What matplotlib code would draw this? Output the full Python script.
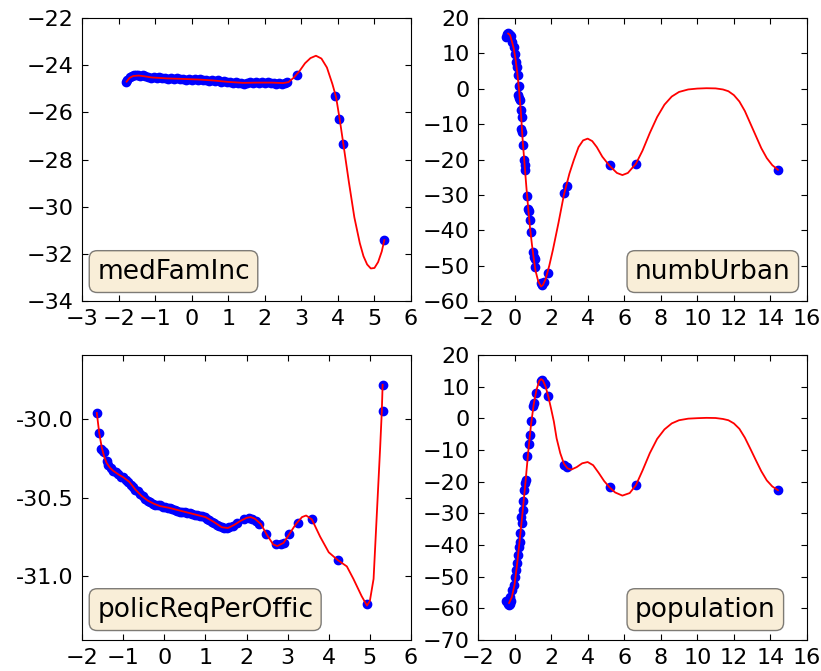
import matplotlib
matplotlib.use('Agg')
import matplotlib.pyplot as plt
from matplotlib.ticker import FormatStrFormatter, MultipleLocator

# ---- data ----
med_x = [-1.80, -1.76, -1.70, -1.64, -1.58, -1.52, -1.46, -1.40, -1.34, -1.28,
         -1.20, -1.12, -1.04, -0.96, -0.88, -0.80, -0.72, -0.64, -0.56, -0.48,
         -0.40, -0.32, -0.24, -0.16, -0.08, 0.00, 0.08, 0.16, 0.24, 0.32,
         0.40, 0.48, 0.56, 0.64, 0.72, 0.80, 0.88, 0.96, 1.04, 1.12,
         1.20, 1.28, 1.36, 1.44, 1.52, 1.60, 1.68, 1.76, 1.84, 1.92,
         2.00, 2.08, 2.16, 2.24, 2.32, 2.40, 2.48, 2.56, 2.62, 2.87,
         3.93, 4.03, 4.14, 5.27]
med_y = [-24.72, -24.64, -24.52, -24.44, -24.41, -24.43, -24.40, -24.44, -24.42, -24.47,
         -24.49, -24.53, -24.50, -24.55, -24.52, -24.56, -24.54, -24.57, -24.55, -24.59,
         -24.56, -24.60, -24.57, -24.61, -24.58, -24.62, -24.59, -24.63, -24.60, -24.65,
         -24.62, -24.66, -24.64, -24.68, -24.65, -24.70, -24.67, -24.73, -24.70, -24.75,
         -24.72, -24.77, -24.74, -24.78, -24.75, -24.72, -24.76, -24.71, -24.74, -24.72,
         -24.75, -24.73, -24.77, -24.74, -24.78, -24.75, -24.79, -24.76, -24.72, -24.42,
         -25.31, -26.28, -27.34, -31.42]
med_cx = [-1.78, -1.70, -1.60, -1.45, -1.30, -1.10, -0.70, -0.30, 0.20, 0.60,
          1.00, 1.40, 1.80, 2.20, 2.50, 2.65, 2.80, 2.95, 3.10, 3.25,
          3.40, 3.55, 3.70, 3.85, 3.95, 4.05, 4.15, 4.30, 4.45, 4.60,
          4.70, 4.80, 4.90, 5.00, 5.10, 5.20, 5.27]
med_cy = [-24.70, -24.54, -24.46, -24.44, -24.47, -24.52, -24.56, -24.58, -24.61, -24.65,
          -24.71, -24.75, -24.74, -24.74, -24.76, -24.72, -24.52, -24.25, -23.92, -23.70,
          -23.60, -23.72, -24.10, -24.80, -25.35, -26.30, -27.35, -28.95, -30.45, -31.55,
          -32.10, -32.45, -32.62, -32.60, -32.35, -31.90, -31.42]

urb_x = [-0.45, -0.40, -0.35, -0.30, -0.25, -0.20, -0.12, -0.05, 0.04, 0.10,
         0.13, 0.17, 0.22, 0.17, 0.24, 0.28, 0.35, 0.41, 0.37, 0.41,
         0.46, 0.50, 0.55, 0.59, 0.68, 0.72, 0.77, 0.83, 0.90, 1.01,
         1.05, 1.10, 1.14, 1.45, 1.50, 1.59, 1.81, 2.72, 2.87, 5.20,
         6.64, 14.41]
urb_y = [14.5, 15.5, 15.8, 15.6, 15.3, 14.8, 13.2, 11.8, 9.9, 7.5,
         6.1, 3.8, 0.7, -1.9, -2.6, -3.3, -6.1, -8.0, -11.3, -12.2,
         -16.0, -20.2, -21.6, -22.9, -30.3, -34.1, -34.5, -37.0, -40.6, -46.1,
         -47.5, -48.0, -50.3, -55.0, -55.5, -54.6, -52.0, -29.4, -27.5, -21.5,
         -21.2, -22.9]
urb_cx = [-0.35, -0.25, -0.15, -0.05, 0.05, 0.15, 0.25, 0.35, 0.45, 0.55,
          0.65, 0.75, 0.85, 0.95, 1.05, 1.15, 1.30, 1.45, 1.55, 1.70,
          1.90, 2.10, 2.40, 2.70, 3.00, 3.24, 3.50, 3.75, 4.00, 4.25,
          4.50, 4.80, 5.20, 5.60, 5.90, 6.20, 6.64, 7.00, 7.40, 7.80,
          8.20, 8.60, 9.00, 9.50, 10.0, 10.5, 11.0, 11.4, 11.7, 12.0,
          12.3, 12.6, 12.9, 13.2, 13.5, 13.8, 14.1, 14.41]
urb_cy = [15.6, 15.2, 13.5, 11.5, 8.5, 4.5, -0.5, -7.0, -15.0, -21.5,
          -28.0, -34.0, -39.5, -44.0, -48.0, -51.5, -54.5, -55.9, -55.5, -53.8,
          -50.0, -45.5, -38.0, -30.0, -24.0, -20.2, -16.5, -14.6, -14.1, -14.8,
          -16.5, -19.2, -21.8, -23.8, -24.4, -23.8, -21.2, -17.5, -12.5, -8.0,
          -4.5, -2.2, -0.9, -0.2, 0.05, 0.15, 0.1, -0.2, -0.7, -1.8,
          -3.6, -6.3, -9.8, -13.3, -16.8, -19.6, -21.6, -22.9]

pol_x = [-1.64, -1.58, -1.53, -1.50, -1.47, -1.40, -1.36, -1.30, -1.24, -1.18,
         -1.12, -1.06, -1.00, -0.94, -0.88, -0.82, -0.76, -0.70, -0.64, -0.58,
         -0.52, -0.46, -0.40, -0.34, -0.28, -0.22, -0.16, -0.10, -0.04, 0.02,
         0.08, 0.14, 0.20, 0.26, 0.32, 0.38, 0.44, 0.50, 0.56, 0.62,
         0.68, 0.74, 0.80, 0.86, 0.92, 0.98, 1.04, 1.10, 1.16, 1.22,
         1.28, 1.34, 1.40, 1.46, 1.52, 1.58, 1.66, 1.76, 1.94, 2.05,
         2.14, 2.22, 2.30, 2.48, 2.72, 2.84, 2.90, 3.04, 3.26, 3.59,
         4.22, 4.93, 5.31, 5.31]
pol_y = [-29.96, -30.085, -30.19, -30.20, -30.21, -30.27, -30.29, -30.31, -30.33, -30.34,
         -30.35, -30.37, -30.37, -30.39, -30.40, -30.42, -30.43, -30.45, -30.46, -30.48,
         -30.49, -30.51, -30.52, -30.53, -30.54, -30.545, -30.55, -30.55, -30.56, -30.56,
         -30.565, -30.57, -30.575, -30.58, -30.585, -30.59, -30.59, -30.595, -30.60, -30.60,
         -30.605, -30.61, -30.61, -30.615, -30.62, -30.625, -30.635, -30.645, -30.655, -30.665,
         -30.675, -30.685, -30.69, -30.695, -30.695, -30.69, -30.68, -30.665, -30.64, -30.63,
         -30.635, -30.65, -30.67, -30.735, -30.80, -30.80, -30.79, -30.73, -30.66, -30.64,
         -30.90, -31.18, -29.95, -29.78]
pol_cx = [-1.64, -1.58, -1.52, -1.46, -1.40, -1.32, -1.24, -1.10, -1.00, -0.85,
          -0.70, -0.55, -0.40, -0.25, -0.10, 0.10, 0.40, 0.70, 1.00, 1.20,
          1.40, 1.55, 1.70, 1.85, 2.00, 2.10, 2.20, 2.35, 2.50, 2.65,
          2.75, 2.90, 3.05, 3.20, 3.35, 3.45, 3.59, 3.79, 4.00, 4.22,
          4.44, 4.60, 4.80, 4.93, 5.00, 5.09, 5.17, 5.25, 5.29, 5.31]
pol_cy = [-29.96, -30.09, -30.18, -30.24, -30.28, -30.31, -30.33, -30.355, -30.37, -30.40,
          -30.45, -30.49, -30.52, -30.54, -30.555, -30.565, -30.585, -30.605, -30.625, -30.655,
          -30.69, -30.695, -30.675, -30.65, -30.63, -30.625, -30.635, -30.67, -30.74, -30.80,
          -30.81, -30.79, -30.73, -30.67, -30.625, -30.615, -30.64, -30.75, -30.85, -30.90,
          -30.94, -31.02, -31.13, -31.19, -31.16, -31.02, -30.60, -30.18, -29.95, -29.78]

pop_x = [-0.45, -0.38, -0.30, -0.25, -0.20, -0.23, -0.14, -0.05, 0.04, 0.10,
         0.13, 0.17, 0.22, 0.28, 0.31, 0.41, 0.37, 0.46, 0.46, 0.53,
         0.59, 0.64, 0.68, 0.77, 0.86, 0.90, 0.99, 1.05, 1.16, 1.45,
         1.52, 1.59, 1.68, 1.81, 2.72, 2.87, 5.20, 6.64, 14.41]
pop_y = [-57.6, -58.5, -58.9, -58.6, -57.8, -56.3, -54.2, -52.6, -50.0, -47.9,
         -45.8, -43.3, -40.5, -38.9, -36.3, -33.1, -31.0, -28.9, -26.2, -22.5,
         -20.4, -19.6, -11.9, -8.2, -5.4, -0.8, 3.9, 5.0, 8.1, 11.8,
         12.0, 11.3, 10.8, 7.1, -14.8, -15.4, -21.7, -21.1, -22.7]
pop_cx = [-0.30, -0.15, 0.00, 0.15, 0.30, 0.45, 0.60, 0.75, 0.90, 1.05,
          1.20, 1.35, 1.45, 1.55, 1.70, 1.85, 2.00, 2.15, 2.30, 2.50,
          2.70, 2.90, 3.10, 3.40, 3.70, 4.00, 4.30, 4.60, 4.90, 5.20,
          5.50, 5.90, 6.30, 6.64, 7.00, 7.40, 7.80, 8.20, 8.60, 9.00,
          9.50, 10.0, 10.5, 11.0, 11.4, 11.7, 12.0, 12.3, 12.6, 12.9,
          13.2, 13.5, 13.8, 14.1, 14.41]
pop_cy = [-58.3, -56.5, -52.5, -45.5, -37.5, -29.0, -20.0, -10.5, -2.0, 4.5,
          9.0, 11.8, 12.4, 12.0, 10.0, 6.8, 3.0, -1.0, -6.3, -11.0,
          -14.3, -15.8, -16.2, -15.4, -14.2, -13.8, -14.8, -17.2, -19.8, -21.8,
          -23.4, -24.4, -23.6, -21.1, -16.5, -11.0, -6.5, -3.5, -1.6, -0.6,
          -0.1, 0.05, 0.15, 0.1, -0.2, -0.6, -1.6, -3.3, -6.1, -9.6,
          -13.2, -16.7, -19.6, -21.5, -22.7]

names = ['medFamInc', 'numbUrban', 'policReqPerOffic', 'population']

plt.rcParams['font.family'] = 'DejaVu Sans'
plt.rcParams['font.size'] = 16
plt.rcParams['xtick.direction'] = 'in'
plt.rcParams['ytick.direction'] = 'in'
plt.rcParams['xtick.top'] = True
plt.rcParams['ytick.right'] = True
plt.rcParams['xtick.major.size'] = 4
plt.rcParams['ytick.major.size'] = 4
plt.rcParams['xtick.major.pad'] = 6
plt.rcParams['ytick.major.pad'] = 6

fig = plt.figure(figsize=(8.21, 6.71), dpi=100)
W, H = 821.0, 671.0
ax1 = fig.add_axes([82 / W, (H - 301) / H, 329 / W, 283 / H])
ax2 = fig.add_axes([478 / W, (H - 301) / H, 329 / W, 283 / H])
ax3 = fig.add_axes([82 / W, (H - 640) / H, 329 / W, 285 / H])
ax4 = fig.add_axes([478 / W, (H - 640) / H, 329 / W, 285 / H])

panels = [
    (ax1, med_x, med_y, med_cx, med_cy),
    (ax2, urb_x, urb_y, urb_cx, urb_cy),
    (ax3, pol_x, pol_y, pol_cx, pol_cy),
    (ax4, pop_x, pop_y, pop_cx, pop_cy),
]

box = dict(boxstyle='round', facecolor='wheat', alpha=0.5)

for i, (ax, x, y, cx, cy) in enumerate(panels):
    ax.plot(x, y, 'o', color='b', mec='b', ms=6)
    ax.plot(cx, cy, '-', color='r', lw=1.3)
    tx = 0.046 if i % 2 == 0 else 0.477
    ty = 0.058 if i < 2 else 0.061
    ax.text(tx, ty, names[i], transform=ax.transAxes, fontsize=19,
            ha='left', va='bottom', bbox=box)

ax1.set_xlim(-3, 6)
ax1.set_ylim(-34, -22)
ax1.xaxis.set_major_locator(MultipleLocator(1))
ax1.yaxis.set_major_locator(MultipleLocator(2))

ax2.set_xlim(-2, 16)
ax2.set_ylim(-60, 20)
ax2.xaxis.set_major_locator(MultipleLocator(2))
ax2.yaxis.set_major_locator(MultipleLocator(10))

ax3.set_xlim(-2, 6)
ax3.set_ylim(-31.41, -29.59)
ax3.xaxis.set_major_locator(MultipleLocator(1))
ax3.set_yticks([-31.0, -30.5, -30.0])
ax3.yaxis.set_major_formatter(FormatStrFormatter('%.1f'))

ax4.set_xlim(-2, 16)
ax4.set_ylim(-70, 20)
ax4.xaxis.set_major_locator(MultipleLocator(2))
ax4.yaxis.set_major_locator(MultipleLocator(10))

fig.savefig('out.png', dpi=100)
